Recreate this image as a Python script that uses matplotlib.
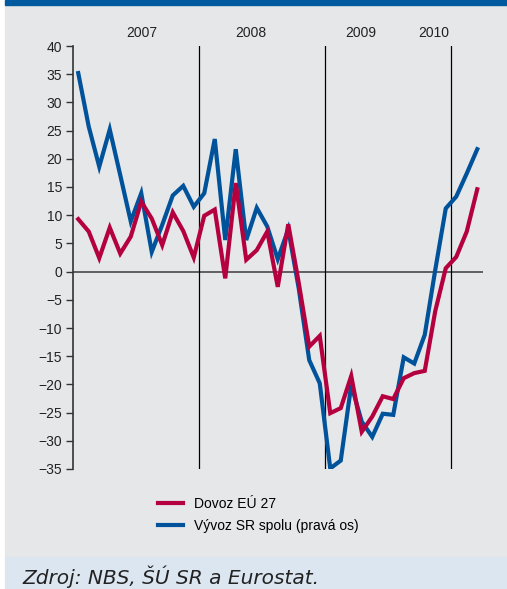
import matplotlib.pyplot as plt
from matplotlib.patches import Rectangle
from matplotlib.transforms import blended_transform_factory

plt.rcParams['font.family'] = ['Liberation Sans', 'DejaVu Sans']

# monthly data, Jan 2007 - Mar 2010 (y/y change, %)
dovoz = [9.3, 7.1, 2.4, 7.8, 3.2, 6.2, 12.4, 9.4, 4.7, 10.5, 7.2, 2.5,
         9.9, 11.0, -1.2, 15.7, 2.1, 3.8, 7.1, -2.7, 8.4, -2.0, -13.3, -11.4,
         -25.1, -24.2, -18.5, -28.4, -25.7, -22.1, -22.6, -18.9, -18.0, -17.6, -7.0, 0.6,
         2.6, 7.1, 14.6]
vyvoz = [35.2, 25.7, 18.6, 25.2, 17.1, 8.9, 13.9, 3.5, 8.3, 13.5, 15.2, 11.5,
         13.9, 23.5, 5.6, 21.7, 5.6, 11.3, 8.0, 2.2, 7.5, -3.0, -15.7, -19.8,
         -34.9, -33.5, -20.1, -26.6, -29.3, -25.2, -25.4, -15.2, -16.3, -11.2, 0.3, 11.2,
         13.3, 17.4, 21.7]
years = ['2007', '2008', '2009', '2010']
year_label_x = [6.6, 16.9, 27.4, 34.4]
year_breaks = [12, 24, 36]

W, H = 507, 589
fig = plt.figure(figsize=(W / 100, H / 100), dpi=100, facecolor='white')

# background panels
fig.patches.append(Rectangle((5 / W, 32 / H), 1, 1 - 37 / H, transform=fig.transFigure,
                             color='#e6e7e9', zorder=-10))
fig.patches.append(Rectangle((5 / W, 1 - 5 / H), 1, 5 / H, transform=fig.transFigure,
                             color='#005aa0', zorder=-10))
fig.patches.append(Rectangle((5 / W, 0), 1, 32 / H, transform=fig.transFigure,
                             color='#dce6f1', zorder=-10))

ax = fig.add_axes([73 / W, 1 - 469 / H, 409.5 / W, 423 / H])
ax.set_facecolor('none')

red = '#b5003f'
blue = '#00529b'
x = [i + 0.5 for i in range(len(dovoz))]

ax.axhline(0, color='#555555', lw=1.3, zorder=1)
for b in year_breaks:
    ax.axvline(b, color='black', lw=0.9, zorder=1)

ax.plot(x, vyvoz, color=blue, lw=3, label='Vývoz SR spolu (pravá os)', zorder=3,
        solid_joinstyle='miter')
ax.plot(x, dovoz, color=red, lw=3, label='Dovoz EÚ 27', zorder=4,
        solid_joinstyle='miter')

ax.set_xlim(0, 39)
ax.set_ylim(-35, 40)
ax.set_yticks(range(-35, 41, 5))
ax.set_xticks([])
ax.tick_params(axis='y', direction='out', length=5, width=1, color='#333333',
               labelsize=10, labelcolor='#222222', pad=3)
for s in ['top', 'right', 'bottom']:
    ax.spines[s].set_visible(False)
ax.spines['left'].set_color('#333333')
ax.spines['left'].set_linewidth(1.2)

trans = blended_transform_factory(ax.transData, ax.transAxes)
for lbl, xp in zip(years, year_label_x):
    ax.text(xp, 1.031, lbl, transform=trans, ha='center', va='center',
            fontsize=10, color='#222222')

handles, labels = ax.get_legend_handles_labels()
fig.legend(handles[::-1], labels[::-1], loc='center left',
           bbox_to_anchor=(145 / W, 1 - 515 / H), frameon=False, fontsize=10,
           handlelength=1.8, labelspacing=0.6, handletextpad=0.8)

fig.text(22 / W, 1 - 577 / H, 'Zdroj: NBS, ŠÚ SR a Eurostat.', style='italic',
         family=['DejaVu Sans'], fontsize=14.5, color='#222222',
         va='center', ha='left')

fig.savefig('out.png', dpi=100, facecolor=fig.get_facecolor())
